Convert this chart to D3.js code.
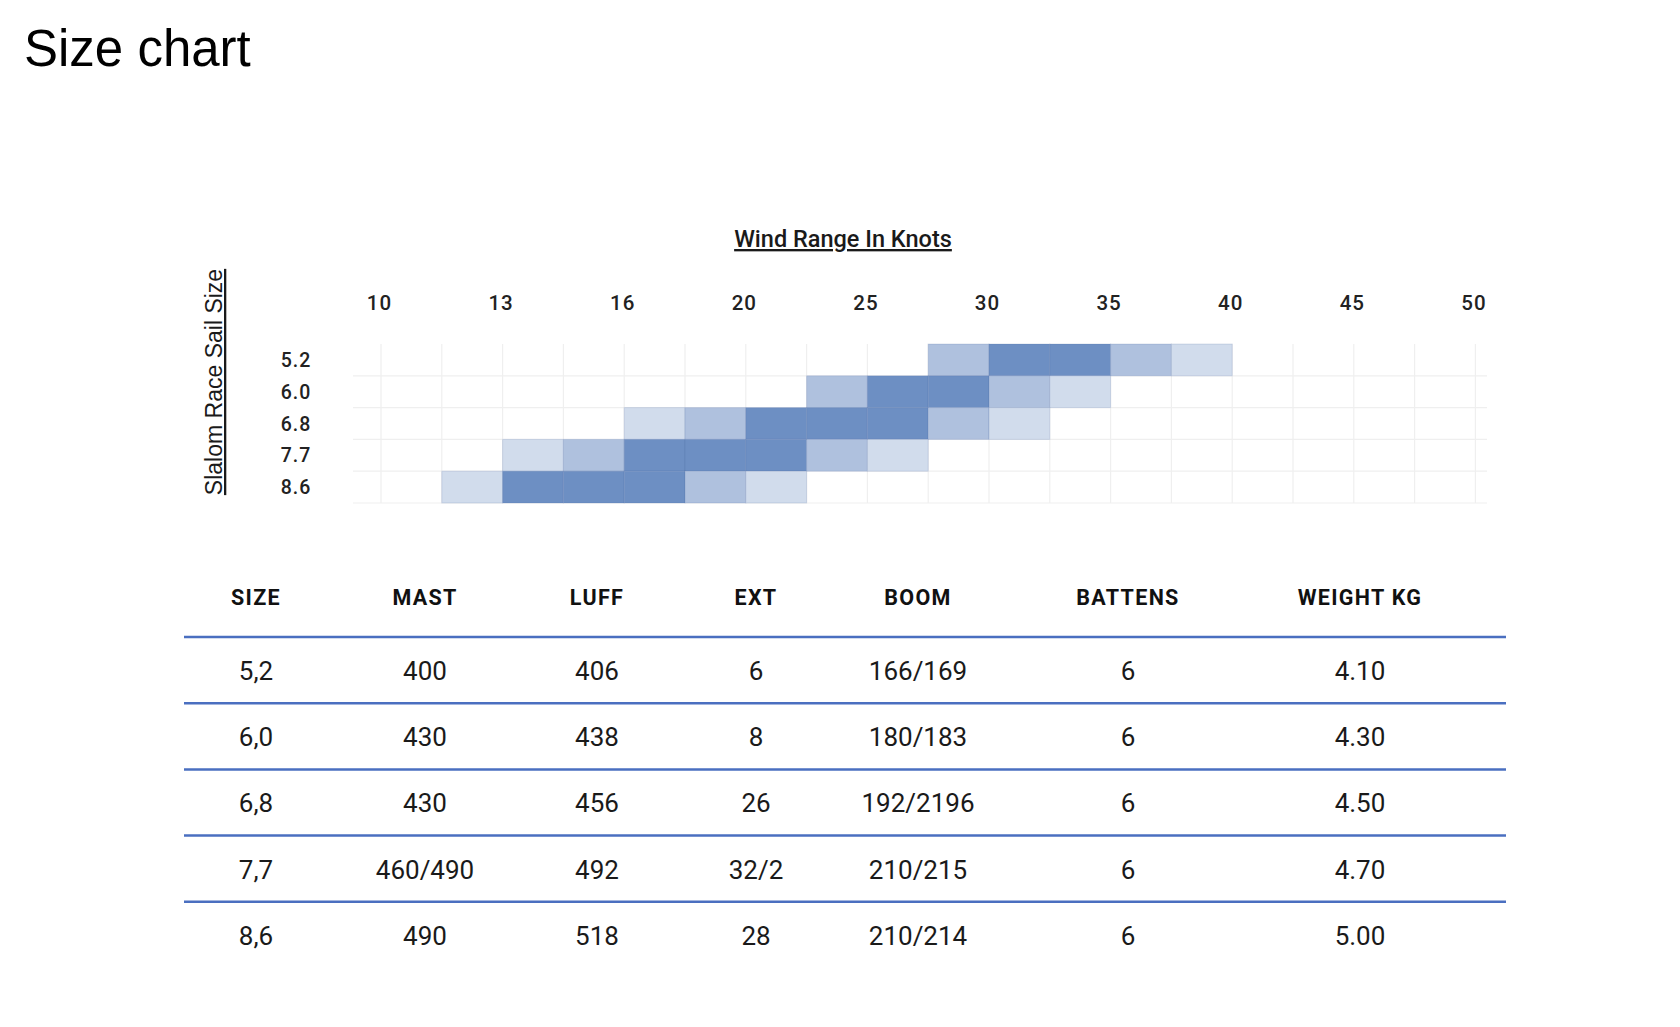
<!DOCTYPE html>
<html>
<head>
<meta charset="utf-8">
<script src="https://cdn.jsdelivr.net/npm/d3@7"></script>
<style>
  body { margin: 0; background: #fff; }
  svg { display: block; }
</style>
</head>
<body>
<svg width="1680" height="1027"></svg>
<script>
// wind range chart
const windTicks = ['10', '13', '16', '20', '25', '30', '35', '40', '45', '50'];
const sailSizes = ['5.2', '6.0', '6.8', '7.7', '8.6'];
// first column index and level (1 light, 2 medium, 3 dark) of each cell
const rangeStart = [9, 7, 4, 2, 1];
const rangeLevels = [
  [2, 3, 3, 2, 1],
  [2, 3, 3, 2, 1],
  [1, 2, 3, 3, 3, 2, 1],
  [1, 2, 3, 3, 3, 2, 1],
  [1, 3, 3, 3, 2, 1]
];

// spec table
const columns = ['SIZE', 'MAST', 'LUFF', 'EXT', 'BOOM', 'BATTENS', 'WEIGHT KG'];
const sizes = ['5,2', '6,0', '6,8', '7,7', '8,6'];
const mast = ['400', '430', '430', '460/490', '490'];
const luff = ['406', '438', '456', '492', '518'];
const ext = ['6', '8', '26', '32/2', '28'];
const boom = ['166/169', '180/183', '192/2196', '210/215', '210/214'];
const battens = ['6', '6', '6', '6', '6'];
const weight = ['4.10', '4.30', '4.50', '4.70', '5.00'];

const levelColor = { 1: '#d1dcec', 2: '#afc1de', 3: '#6d8fc3' };
const din = 'Roboto, "DejaVu Sans", sans-serif';

const svg = d3.select('svg');

svg.append('text')
  .attr('x', 24).attr('y', 66)
  .attr('font-family', '"Liberation Sans", Arial, sans-serif')
  .attr('font-size', 51)
  .attr('fill', '#000')
  .text('Size chart');

// ---- heat strip ----
const nCols = (windTicks.length - 1) * 2;
const x = d3.scaleLinear().domain([0, nCols]).range([381, 381 + nCols * 60.8]);
const y = d3.scaleBand().domain(sailSizes).range([344, 503]);

const grid = svg.append('g');
grid.selectAll('line.v')
  .data(d3.range(nCols + 1))
  .enter().append('line')
  .classed('v', true)
  .attr('x1', d => x(d)).attr('x2', d => x(d))
  .attr('y1', y.range()[0]).attr('y2', y.range()[1])
  .attr('stroke', '#efefef').attr('stroke-width', 1.2);
grid.selectAll('line.h')
  .data(sailSizes)
  .enter().append('line')
  .classed('h', true)
  .attr('x1', 353).attr('x2', 1487)
  .attr('y1', d => y(d) + y.bandwidth()).attr('y2', d => y(d) + y.bandwidth())
  .attr('stroke', '#efefef').attr('stroke-width', 1.2);

const cells = [];
sailSizes.forEach(function(s, i) {
  rangeLevels[i].forEach(function(lv, j) {
    cells.push({ size: s, col: rangeStart[i] + j, level: lv });
  });
});

svg.append('g').selectAll('rect')
  .data(cells)
  .enter().append('rect')
  .attr('x', d => x(d.col))
  .attr('y', d => y(d.size))
  .attr('width', d => x(d.col + 1) - x(d.col))
  .attr('height', y.bandwidth())
  .attr('fill', d => levelColor[d.level])
  .attr('stroke', 'rgba(70,100,160,0.18)')
  .attr('stroke-width', 1);

const xAxis = d3.axisTop(x)
  .tickValues(windTicks.map((t, i) => i * 2))
  .tickFormat(d => windTicks[d / 2])
  .tickSize(0).tickPadding(0);
svg.append('g')
  .attr('transform', 'translate(-2,310)')
  .call(xAxis)
  .call(g => g.select('.domain').remove())
  .selectAll('text')
  .attr('font-family', din).attr('font-size', 20.5).attr('font-weight', 500)
  .attr('letter-spacing', 1)
  .attr('fill', '#222');

svg.append('g').selectAll('text')
  .data(sailSizes)
  .enter().append('text')
  .attr('x', 296)
  .attr('y', d => y(d) + y.bandwidth() / 2 + 7)
  .attr('text-anchor', 'middle')
  .attr('font-family', din).attr('font-size', 19.5).attr('font-weight', 500)
  .attr('letter-spacing', 1)
  .attr('fill', '#222')
  .text(d => d);

svg.append('text')
  .attr('x', 843).attr('y', 247)
  .attr('text-anchor', 'middle')
  .attr('font-family', din).attr('font-size', 23.5).attr('font-weight', 500)
  .attr('text-decoration', 'underline')
  .attr('fill', '#1a1a1a')
  .text('Wind Range In Knots');

svg.append('text')
  .attr('transform', 'translate(222,382) rotate(-90)')
  .attr('text-anchor', 'middle')
  .attr('font-family', '"Liberation Sans", Arial, sans-serif')
  .attr('font-size', 23)
  .attr('text-decoration', 'underline')
  .attr('fill', '#1a1a1a')
  .text('Slalom Race Sail Size');

// ---- table ----
const tableRows = sizes.map((s, i) => [s, mast[i], luff[i], ext[i], boom[i], battens[i], weight[i]]);
const colX = d3.scaleOrdinal().domain(columns).range([256, 425, 597, 756, 918, 1128, 1360]);
const rowY = d3.scaleLinear().domain([0, 1]).range([670, 736.2]);

svg.append('g').selectAll('text')
  .data(columns)
  .enter().append('text')
  .attr('x', d => colX(d))
  .attr('y', 605)
  .attr('text-anchor', 'middle')
  .attr('font-family', din).attr('font-size', 21.5).attr('font-weight', 700)
  .attr('letter-spacing', 1.3)
  .attr('fill', '#111')
  .text(d => d);

svg.append('g').selectAll('line')
  .data(d3.range(tableRows.length))
  .enter().append('line')
  .attr('x1', 184).attr('x2', 1506)
  .attr('y1', d => rowY(d) - 33).attr('y2', d => rowY(d) - 33)
  .attr('stroke', '#4a6fc0').attr('stroke-width', 2.5);

const rowG = svg.append('g').selectAll('g')
  .data(tableRows)
  .enter().append('g')
  .attr('transform', (d, i) => 'translate(0,' + (rowY(i) + 10) + ')');
rowG.selectAll('text')
  .data(d => d.map((v, j) => ({ col: columns[j], v: v })))
  .enter().append('text')
  .attr('x', d => colX(d.col))
  .attr('text-anchor', 'middle')
  .attr('font-family', din).attr('font-size', 26)
  .attr('fill', '#1a1a1a')
  .text(d => d.v);
</script>
</body>
</html>
